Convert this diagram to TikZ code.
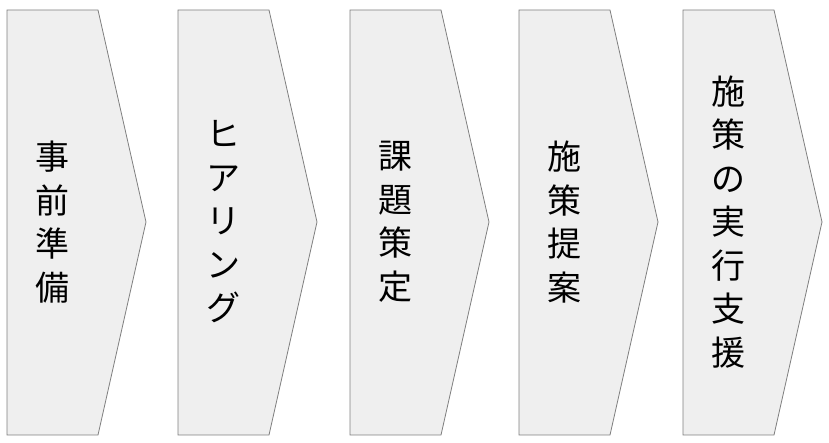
\documentclass[tikz,border=0pt]{standalone}
\usepackage{fontspec}
\newfontfamily\jpfont{Noto Sans CJK JP}
\usepackage{tikz}
\usetikzlibrary{positioning}
\definecolor{chevfill}{HTML}{EFEFEF}
\definecolor{chevline}{HTML}{7F7F7F}

\begin{document}
\begin{tikzpicture}[x=1pt,y=1pt,
    chevron/.style={draw=chevline,fill=chevfill,line width=0.8pt,line join=miter},
    steptext/.style={align=center,inner sep=0pt,
      font=\jpfont\fontsize{34}{43.5}\selectfont}]
  \useasboundingbox (0,0) rectangle (829,443);
  %Shapes and labels
  \foreach \x/\name/\txt in {7/prep/{事\\前\\準\\備},
                             178/hearing/{ヒ\\ア\\リ\\ン\\グ},
                             350/issue/{課\\題\\策\\定},
                             519/proposal/{施\\策\\提\\案},
                             683/support/{施\\策\\の\\実\\行\\支\\援}}{
    \draw[chevron] (\x,433) -- ++(91,0) -- ++(48,-212) -- ++(-48,-213) -- ++(-91,0) -- cycle;
    \node at (\x+45.5,221) [steptext] (\name) {\txt};
  }
\end{tikzpicture}
\end{document}
